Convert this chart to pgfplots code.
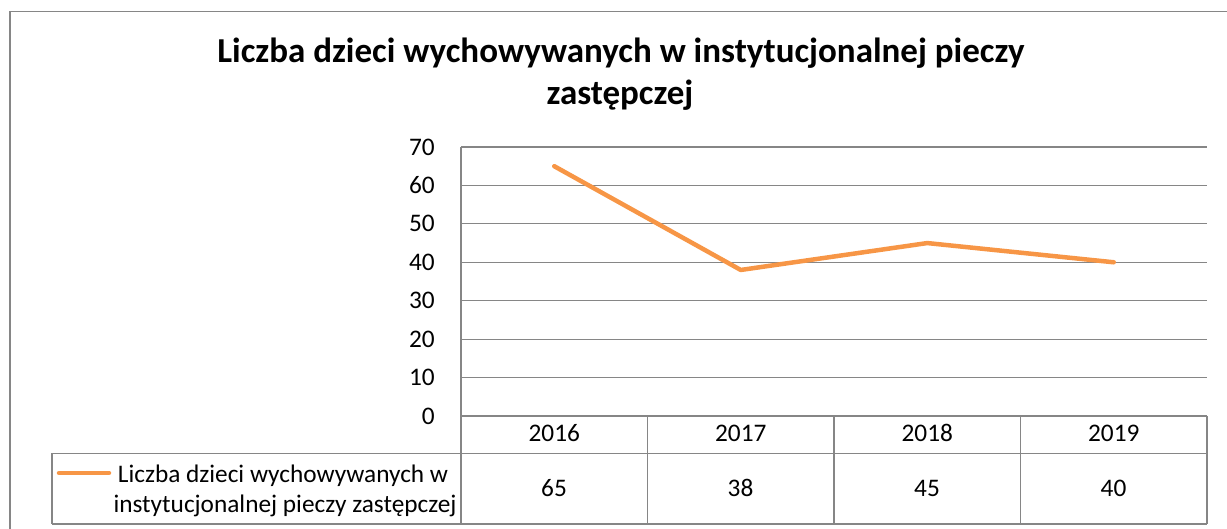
\documentclass[border=0pt]{standalone}
\usepackage{pgfplots}
\pgfplotsset{compat=1.18}
\usepackage{fontspec}
\setmainfont{Carlito}
\definecolor{ln}{RGB}{247,150,70}
\definecolor{gr}{RGB}{134,134,134}
\newcommand{\tf}{\fontsize{25.3bp}{30bp}\selectfont}
\begin{document}
\begin{tikzpicture}[x=1bp,y=1bp]
\useasboundingbox (0,0) rectangle (1227,529);
\draw[gr, line width=1.3bp] (10,-5) -- (10,517.5) -- (1235,517.5);
\node[font=\fontsize{35bp}{40bp}\selectfont\bfseries, anchor=base, inner sep=0pt] at (621,466) {Liczba dzieci wychowywanych w instytucjonalnej pieczy};
\node[font=\fontsize{35bp}{40bp}\selectfont\bfseries, anchor=base, inner sep=0pt] at (620,424) {zastępczej};
\begin{axis}[at={(461bp,113bp)}, anchor=south west, scale only axis,
  width=746bp, height=269bp, xmin=0, xmax=4, ymin=0, ymax=70,
  ytick={0,10,...,70}, xtick={0.5,1.5,2.5,3.5},
  xticklabels={2016,2017,2018,2019},
  axis lines=left, axis line style={-, gr, line width=1.2bp},
  major tick length=0pt,
  ymajorgrids, grid style={gr, line width=1.2bp},
  /pgf/number format/assume math mode=true,
  tick label style={font=\tf, inner sep=0pt},
  yticklabel style={anchor=east, xshift=-26bp},
  xticklabel style={anchor=base, yshift=-26bp},
  clip=false]
\addplot[ln, line width=4.5bp, line join=round, line cap=round] coordinates {(0.5,65) (1.5,38) (2.5,45) (3.5,40)};
\end{axis}
% data table
\draw[gr, line width=1.3bp] (461,113) -- (461,5);
\draw[gr, line width=1.3bp] (647.5,113) -- (647.5,5);
\draw[gr, line width=1.3bp] (834,113) -- (834,5);
\draw[gr, line width=1.3bp] (1020.5,113) -- (1020.5,5);
\draw[gr, line width=1.3bp] (1207,113) -- (1207,5);
\draw[gr, line width=1.3bp] (52,75.5) -- (1207,75.5);
\draw[gr, line width=1.3bp] (52,5) -- (1207,5);
\draw[gr, line width=1.3bp] (52,75.5) -- (52,5);
\draw[ln, line width=4.5bp, line cap=round] (59,56) -- (109,56);
\node[font=\tf, anchor=base, inner sep=0pt] at (283,46) {Liczba dzieci wychowywanych w};
\node[font=\tf, anchor=base, inner sep=0pt] at (285,16) {instytucjonalnej pieczy zastępczej};
\foreach \v/\x in {65/554, 38/740.5, 45/927, 40/1113.5}
  \node[font=\tf, anchor=base, inner sep=0pt] at (\x,32) {\v};
\end{tikzpicture}
\end{document}
